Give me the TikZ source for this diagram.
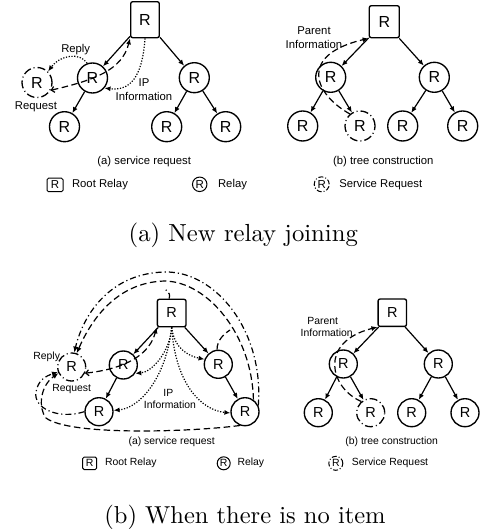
\documentclass[tikz,border=0pt]{standalone}
\usepackage{graphicx}
\usepackage{fontspec}
\newfontfamily\lsans{Liberation Sans}
\usetikzlibrary{arrows.meta}
\begin{document}
\begin{tikzpicture}[x=1pt,y=-1pt,
  rootbox/.style={draw, rounded corners=2pt, inner sep=0pt, line width=1.35pt},
  relay/.style={draw, circle, inner sep=0pt, line width=1.35pt},
  sreq/.style={draw, circle, inner sep=0pt, line width=1.3pt, dash pattern=on 8pt off 3pt on 1pt off 3pt},
  bigR/.style={font=\lsans\fontsize{16}{16}\selectfont},
  midR/.style={font=\lsans\fontsize{14.5}{14.5}\selectfont},
  smallRa/.style={font=\lsans\fontsize{11.5}{11.5}\selectfont},
  smallRb/.style={font=\lsans\fontsize{10.5}{10.5}\selectfont},
  laba/.style={font=\lsans\fontsize{11.3}{12}\selectfont, inner sep=0pt},
  labb/.style={font=\lsans\fontsize{10.4}{11}\selectfont, inner sep=0pt},
  capt/.style={font=\fontsize{10}{12}\selectfont, inner sep=0pt},
  tip/.style={-{Latex[length=6pt,width=5pt]}},
  arr/.style={tip, line width=1.2pt},
  dotl/.style={line width=1.2pt, dash pattern=on 1.2pt off 1.6pt},
  dashl/.style={line width=1.2pt, dash pattern=on 6.5pt off 3.5pt},
  ddl/.style={line width=1.2pt, dash pattern=on 6pt off 3pt on 1.2pt off 3pt},
  barb/.style={{Straight Barb[length=3pt,width=6pt]}-{Latex[length=6pt,width=5pt]}}
]
\useasboundingbox (0,0) rectangle (481,529);
\fill[white] (0,0) rectangle (481,529);

% ================= TOP (a) service request =================
\node[rootbox, minimum width=28.6pt, minimum height=36pt, bigR] (ra) at (145,19.7) {R};
\node[relay, minimum size=30pt, bigR] (a1) at (92.5,78) {R};
\node[relay, minimum size=30pt, bigR] (a2) at (194.3,77.7) {R};
\node[relay, minimum size=30pt, bigR] (a3) at (64.5,126.7) {R};
\node[relay, minimum size=30pt, bigR] (a4) at (166.7,126.7) {R};
\node[relay, minimum size=30pt, bigR] (a5) at (225.7,126.7) {R};
\node[sreq, minimum size=30pt, bigR] (aS) at (37,82.5) {R};

\draw[arr] (ra) -- (a1);
\draw[arr] (ra) -- (a2);
\draw[arr] (a1) -- (a3);
\draw[arr] (a2) -- (a4);
\draw[arr] (a2) -- (a5);
\draw[dashl, barb] (aS.-30) .. controls (95,80) and (122,70) .. (ra.south west);
\draw[dotl, tip] (a1.110) .. controls (80,52) and (60,55) .. (aS.45);
\draw[dotl, tip] (ra.south) .. controls (143,68) and (135,92) .. (a1.-40);

\node[laba] (ta1) at (75.7,50) {Reply};
\node[laba] (ta2) at (36,106.7) {Request};
\node[laba] (ta3) at (144,82.7) {IP};
\node[laba] (ta4) at (144,96.7) {Information};

% ================= TOP (b) tree construction =================
\node[rootbox, minimum width=30pt, minimum height=32pt, bigR] (rb) at (384.3,21.7) {R};
\node[relay, minimum size=30pt, bigR] (b1) at (330.7,77.3) {R};
\node[relay, minimum size=30pt, bigR] (b2) at (434.3,77.3) {R};
\node[relay, minimum size=30pt, bigR] (b3) at (302.7,126) {R};
\node[sreq, minimum size=30pt, bigR] (bS) at (360,126) {R};
\node[relay, minimum size=30pt, bigR] (b4) at (402.7,126) {R};
\node[relay, minimum size=30pt, bigR] (b5) at (462.7,126) {R};

\draw[arr] (rb) -- (b1);
\draw[arr] (rb) -- (b2);
\draw[arr] (b1) -- (b3);
\draw[arr] (b1) -- (bS);
\draw[arr] (b2) -- (b4);
\draw[arr] (b2) -- (b5);
\draw[dashl, tip] (bS.130) .. controls (314,94) and (298,55) .. (rb.south west);

\node[laba] (tb1) at (314,30.7) {Parent};
\node[laba] (tb2) at (314,44.3) {Information};

% legend top
\node[laba] (sa) at (144.2,161.7) {(a) service request};
\node[laba] (sb) at (383.3,161.7) {(b) tree construction};
\node[rootbox, line width=1pt, rounded corners=1.5pt, minimum width=16pt, minimum height=13.5pt, smallRa] (lga1) at (55,185) {R};
\node[laba] (lga1t) at (100,184.3) {Root Relay};
\node[relay, line width=1pt, minimum size=14.5pt, smallRa] (lga2) at (199.7,184.3) {R};
\node[laba] (lga2t) at (232.5,184.3) {Relay};
\node[sreq, line width=1pt, dash pattern=on 5pt off 2pt on 1pt off 2pt, minimum size=15pt, smallRa] (lga3) at (321.7,184.3) {R};
\node[laba] (lga3t) at (380.8,184.3) {Service Request};

\node[capt] (capa) at (243.3,235) {\scalebox{2.47}{(a) New relay joining}};

% ================= BOTTOM (a) service request =================
\node[rootbox, minimum width=28.7pt, minimum height=27.4pt, midR] (rc) at (171.7,313) {R};
\node[relay, minimum size=28pt, midR] (c1) at (123.3,365) {R};
\node[relay, minimum size=28pt, midR] (c2) at (218.3,364.3) {R};
\node[relay, minimum size=28pt, midR] (c3) at (99,411.7) {R};
\node[relay, minimum size=28pt, midR] (c4) at (245,411.7) {R};
\node[sreq, minimum size=28pt, midR] (cS) at (71.7,367) {R};

\draw[arr] (rc) -- (c1);
\draw[arr] (rc) -- (c2);
\draw[arr] (c1) -- (c3);
\draw[arr] (c2) -- (c4);
\draw[dotl, tip] (rc.south) .. controls (170,352) and (152,372) .. (c1.-35);
\draw[dotl, tip] (rc.south) .. controls (174,348) and (188,356) .. (c2.160);
\draw[dotl, tip] (rc.south) .. controls (166,378) and (140,408) .. (c3.5);
\draw[dotl, tip] (rc.south) .. controls (175,382) and (200,410) .. (c4.185);
\draw[dashl, barb] (cS.-25) .. controls (115,370) and (148,360) .. (rc.south west);

% replies
\draw[ddl, tip] (c4.25) .. controls (264,330) and (215,271) .. (165,272)
   .. controls (112,273) and (84,312) .. (cS.80);
\draw[dashl, tip] (c4.55) .. controls (252,335) and (208,282) .. (165,281)
   .. controls (118,282) and (92,318) .. (cS.70);
\coordinate (j1) at (230,330);
\draw[dashl] (c2.95) .. controls (217,340) and (224,334) .. (j1);
\coordinate (j2) at (165,289);
\draw[ddl] (rc.100) .. controls (170,294) .. (j2);
\draw[ddl, tip] (c3.west) .. controls (58,420) and (33,408) .. (36,392)
   .. controls (38,380) and (46,376) .. (cS.200);
\draw[dashl, tip] (c4.250) .. controls (190,432) and (70,436) .. (46,418)
   .. controls (38,408) and (40,386) .. (cS.205);

\node[labb] (tc1) at (46.7,356.7) {Reply};
\node[labb] (tc2) at (71.7,389.3) {Request};
\node[labb] (tc3) at (168.3,392.7) {IP};
\node[labb] (tc4) at (170,404.3) {Information};

% ================= BOTTOM (b) tree construction =================
\node[rootbox, minimum width=28.4pt, minimum height=27.4pt, midR] (rd) at (392.3,312.7) {R};
\node[relay, minimum size=28pt, midR] (d1) at (343.3,364) {R};
\node[relay, minimum size=28pt, midR] (d2) at (438.3,364) {R};
\node[relay, minimum size=28pt, midR] (d3) at (318.3,412.7) {R};
\node[sreq, minimum size=28pt, midR] (dS) at (370.7,412.7) {R};
\node[relay, minimum size=28pt, midR] (d4) at (411.7,412.7) {R};
\node[relay, minimum size=28pt, midR] (d5) at (465,412.7) {R};

\draw[arr] (rd) -- (d1);
\draw[arr] (rd) -- (d2);
\draw[arr] (d1) -- (d3);
\draw[arr] (d1) -- (dS);
\draw[arr] (d2) -- (d4);
\draw[arr] (d2) -- (d5);
\draw[dashl, tip] (dS.130) .. controls (330,388) and (318,342) .. (rd.south west);

\node[labb] (td1) at (322.7,320.7) {Parent};
\node[labb] (td2) at (326.7,332.7) {Information};

% legend bottom
\node[labb] (sc) at (171.7,441.7) {(a) service request};
\node[labb] (sd) at (391.7,441.7) {(b) tree construction};
\node[rootbox, line width=1pt, rounded corners=1.5pt, minimum width=14pt, minimum height=12.5pt, smallRb] (lgb1) at (89.7,463.3) {R};
\node[labb] (lgb1t) at (130.8,463.3) {Root Relay};
\node[relay, line width=1pt, minimum size=13pt, smallRb] (lgb2) at (223.7,463.3) {R};
\node[labb] (lgb2t) at (250.8,463.3) {Relay};
\node[sreq, line width=1pt, dash pattern=on 5pt off 2pt on 1pt off 2pt, minimum size=14pt, smallRb] (lgb3) at (335.8,463.3) {R};
\node[labb] (lgb3t) at (390,463.3) {Service Request};

\node[capt] (capb) at (245,517.3) {\scalebox{2.45}{(b) When there is no item}};
\end{tikzpicture}
\end{document}
